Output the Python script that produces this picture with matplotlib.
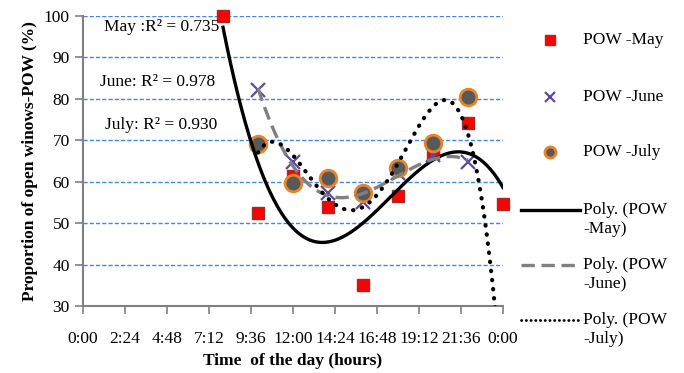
import numpy as np
import matplotlib.pyplot as plt

plt.rcParams['font.family'] = 'Liberation Serif'

# readings (hours of day, % open windows)
hours_may = [8, 10, 12, 14, 16, 18, 20, 22, 24]
pow_may = [100, 52.4, 61.4, 53.9, 35, 56.5, 67, 74.2, 54.6]
hours_jun = [10, 12, 14, 16, 18, 20, 22]
pow_jun = [82.1, 64.7, 57.3, 55, 62, 66.4, 64.7]
# last July point lies below the 30% axis minimum, so it is clipped
hours_jul = [10, 12, 14, 16, 18, 20, 22, 24]
pow_jul = [69.1, 59.6, 60.9, 57.3, 63.2, 69.3, 80.4, 5]

xticks = np.arange(0, 24.01, 2.4)
xtick_labels = ['0:00', '2:24', '4:48', '7:12', '9:36', '12:00', '14:24',
                '16:48', '19:12', '21:36', '0:00']
r2_labels = ['May :R\u00b2 = 0.735', 'June: R\u00b2 = 0.978', 'July: R\u00b2 = 0.930']

fontsize = 12.5
W, H = 684, 373
dotted = (0, (0.1, 2.1))

fig = plt.figure(figsize=(W / 100, H / 100), dpi=100)
ax = fig.add_axes([83 / W, 1 - 306 / H, 420 / W, 290 / H])

# polynomial trendlines (like Excel)
c_may = np.polyfit(hours_may, pow_may, 3)
c_jun = np.polyfit(hours_jun, pow_jun, 3)
c_jul = np.polyfit(hours_jul, pow_jul, 4)
t_may = np.linspace(min(hours_may), max(hours_may), 300)
t_jun = np.linspace(min(hours_jun), max(hours_jun), 300)
t_jul = np.linspace(min(hours_jul), max(hours_jul), 300)

ax.plot(hours_may, pow_may, linestyle='none', marker='s', markersize=9,
        markerfacecolor='#ff0000', markeredgecolor='#a52a2a', markeredgewidth=1, clip_on=False, zorder=3)
ax.plot(hours_jun, pow_jun, linestyle='none', marker='x', markersize=10,
        color='#604a9b', markeredgewidth=1.6, zorder=3)
ax.plot(hours_jul, pow_jul, linestyle='none', marker='o', markersize=12,
        markerfacecolor='#595959', markeredgecolor='#e8842c', markeredgewidth=2, zorder=3)

ax.plot(t_may, np.polyval(c_may, t_may), color='black', linewidth=2.4, zorder=4)
ax.plot(t_jun, np.polyval(c_jun, t_jun), color='#808080', linewidth=2.4,
        dashes=(4, 2), zorder=4)
ax.plot(t_jul, np.polyval(c_jul, t_jul), color='black', linewidth=3,
        linestyle=dotted, dash_capstyle='round', zorder=4)

ax.set_xlim(0, 24)
ax.set_ylim(30, 100)
ax.set_xticks(xticks)
ax.set_xticklabels(xtick_labels)
ax.set_yticks(np.arange(30, 101, 10))
ax.tick_params(labelsize=fontsize, color='#808080', length=6, width=1.2, direction='out')
ax.tick_params(axis='x', pad=12)

for s in ['top', 'right']:
    ax.spines[s].set_visible(False)
for s in ['left', 'bottom']:
    ax.spines[s].set_color('#808080')
    ax.spines[s].set_linewidth(1.5)

ax.yaxis.grid(True, color='#4a85dc', linestyle=(0, (3, 1.5)), linewidth=1)
ax.set_axisbelow(True)

ax.set_xlabel('Time  of the day (hours)', fontsize=fontsize, weight='bold', labelpad=4)
ax.set_ylabel('Proportion of open winows-POW (%)', fontsize=fontsize, weight='bold', labelpad=4)

ax.text(1.2, 97.3, r2_labels[0], fontsize=fontsize, va='center')
ax.text(0.95, 84, r2_labels[1], fontsize=fontsize, va='center')
ax.text(1.25, 73.7, r2_labels[2], fontsize=fontsize, va='center')

# legend on the right, pixel coordinates
lg = fig.add_axes([0, 0, 1, 1])
lg.set_xlim(0, W)
lg.set_ylim(H, 0)
lg.axis('off')
lg.patch.set_alpha(0)

lg.plot([550], [40], marker='s', markersize=7, markerfacecolor='#ff0000',
        markeredgecolor='#a52a2a', linestyle='none')
lg.plot([550], [97], marker='x', markersize=7, color='#604a9b', markeredgewidth=1.6, linestyle='none')
lg.plot([550], [152], marker='o', markersize=8, markerfacecolor='#595959',
        markeredgecolor='#e8842c', markeredgewidth=2, linestyle='none')
lg.plot([521, 580], [210, 210], color='black', linewidth=2.4)
lg.plot([521, 580], [265, 265], color='#808080', linewidth=2.4, dashes=(4, 2))
lg.plot([521, 580], [320, 320], color='black', linewidth=2.0, linestyle=(0, (0.1, 1.6)), dash_capstyle='round')

leg_labels = ['POW -May', 'POW -June', 'POW -July',
              'Poly. (POW\n-May)', 'Poly. (POW\n-June)', 'Poly. (POW\n-July)']
leg_y = [40, 97, 152, 210, 265, 320]
for lab, yy in zip(leg_labels, leg_y):
    lg.text(583, yy - 8, lab, fontsize=fontsize, va='top', ha='left', linespacing=1.25)

fig.savefig('out.png', dpi=100)
